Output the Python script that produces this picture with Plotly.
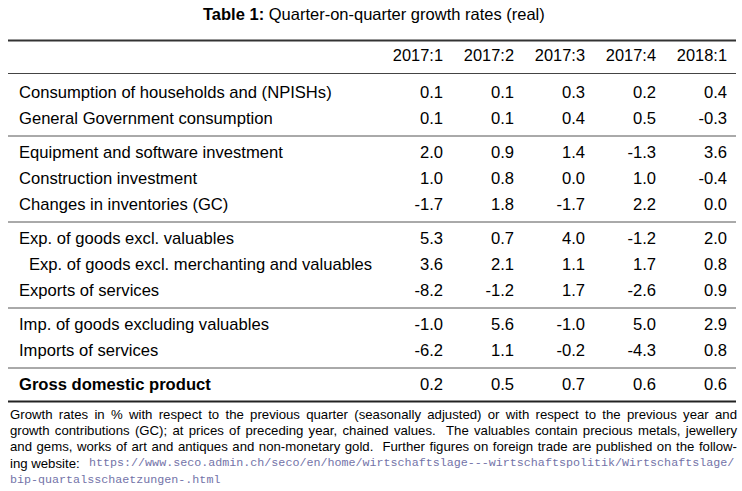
import plotly.graph_objects as go

# ---------------- data ----------------
title_bold = "Table 1:"
title_rest = "Quarter-on-quarter growth rates (real)"

quarters = ["2017:1", "2017:2", "2017:3", "2017:4", "2018:1"]

row_labels = [
    "Consumption of households and (NPISHs)",
    "General Government consumption",
    "Equipment and software investment",
    "Construction investment",
    "Changes in inventories (GC)",
    "Exp. of goods excl. valuables",
    "Exp. of goods excl. merchanting and valuables",
    "Exports of services",
    "Imp. of goods excluding valuables",
    "Imports of services",
    "Gross domestic product",
]
row_groups = [0, 0, 1, 1, 1, 2, 2, 2, 3, 3, 4]
row_indent = [0, 0, 0, 0, 0, 0, 1, 0, 0, 0, 0]
row_bold = [0, 0, 0, 0, 0, 0, 0, 0, 0, 0, 1]

q2017_1 = [0.1, 0.1, 2.0, 1.0, -1.7, 5.3, 3.6, -8.2, -1.0, -6.2, 0.2]
q2017_2 = [0.1, 0.1, 0.9, 0.8, 1.8, 0.7, 2.1, -1.2, 5.6, 1.1, 0.5]
q2017_3 = [0.3, 0.4, 1.4, 0.0, -1.7, 4.0, 1.1, 1.7, -1.0, -0.2, 0.7]
q2017_4 = [0.2, 0.5, -1.3, 1.0, 2.2, -1.2, 1.7, -2.6, 5.0, -4.3, 0.6]
q2018_1 = [0.4, -0.3, 3.6, -0.4, 0.0, 2.0, 0.8, 0.9, 2.9, 0.8, 0.6]
columns = [q2017_1, q2017_2, q2017_3, q2017_4, q2018_1]

note_lines = [
    "Growth rates in % with respect to the previous quarter (seasonally adjusted) or with respect to the previous year and",
    "growth contributions (GC); at prices of preceding year, chained values.  The valuables contain precious metals, jewellery",
    "and gems, works of art and antiques and non-monetary gold.  Further figures on foreign trade are published on the follow-",
]
note_prefix = "ing website:"
url_part1 = "https://www.seco.admin.ch/seco/en/home/wirtschaftslage---wirtschaftspolitik/Wirtschaftslage/"
url_part2 = "bip-quartalsschaetzungen-.html"

# ---------------- layout constants ----------------
W, H = 742, 491
LEFT, RIGHT = 8, 736
LABEL_X = 19
INDENT = 10
COL_RIGHT0 = 443
COL_STEP = 71
HEADER_Y = 57
ROW_Y0 = 93.5
ROW_STEP = 26
GROUP_GAP = 8
FONT = "Liberation Sans, Arial, sans-serif"
MONO = "Liberation Mono, Courier New, monospace"
FS = 16.6
NFS = 13.2
URL_FS = 11.7
URL_X = 87
URL_COLOR = "#7373a8"

def row_y(i):
    return ROW_Y0 + ROW_STEP * i + GROUP_GAP * row_groups[i]

fig = go.Figure()

# header
fig.add_trace(go.Scatter(
    x=[COL_RIGHT0 + COL_STEP * j for j in range(len(quarters))],
    y=[HEADER_Y] * len(quarters),
    text=quarters, mode="text", textposition="middle left",
    textfont=dict(family=FONT, size=16.4, color="#000"),
    hoverinfo="skip", showlegend=False,
))

# row labels
fig.add_trace(go.Scatter(
    x=[LABEL_X + INDENT * row_indent[i] for i in range(len(row_labels))],
    y=[row_y(i) for i in range(len(row_labels))],
    text=[("<b>%s</b>" % t) if row_bold[i] else t for i, t in enumerate(row_labels)],
    mode="text", textposition="middle right",
    textfont=dict(family=FONT, size=FS, color="#000"),
    hoverinfo="skip", showlegend=False,
))

# values
for j, col in enumerate(columns):
    fig.add_trace(go.Scatter(
        x=[COL_RIGHT0 + COL_STEP * j] * len(col),
        y=[row_y(i) for i in range(len(col))],
        text=["%.1f" % v for v in col],
        mode="text", textposition="middle left",
        textfont=dict(family=FONT, size=FS, color="#000"),
        hoverinfo="skip", showlegend=False,
    ))

# rules
shapes = []
def hline(y, w, color):
    shapes.append(dict(type="line", xref="x", yref="y", x0=LEFT, x1=RIGHT,
                       y0=y, y1=y, line=dict(color=color, width=w)))

hline(40.5, 2, "#333")
hline(73.5, 1, "#444")
for g in range(1, 5):
    first = row_groups.index(g)
    hline((row_y(first - 1) + row_y(first)) / 2 - 0.5, 1, "#555")
hline(401.5, 2, "#222")

annotations = [
    dict(x=374, y=14, xref="x", yref="y", showarrow=False,
         text="<b>%s</b> %s" % (title_bold, title_rest),
         font=dict(family=FONT, size=16.5, color="#000"), xanchor="center", yanchor="middle"),
]
NOTE_Y0, NOTE_STEP = 414, 16.4
for k, line in enumerate(note_lines):
    annotations.append(dict(x=LEFT, y=NOTE_Y0 + NOTE_STEP * k, xref="x", yref="y", showarrow=False,
                            text=line, font=dict(family=FONT, size=NFS, color="#000"),
                            xanchor="left", yanchor="middle", align="left"))
annotations.append(dict(
    x=LEFT, y=NOTE_Y0 + NOTE_STEP * 3, xref="x", yref="y", showarrow=False,
    text=note_prefix, font=dict(family=FONT, size=NFS, color="#000"),
    xanchor="left", yanchor="middle", align="left"))
annotations.append(dict(
    x=URL_X, y=NOTE_Y0 + NOTE_STEP * 3, xref="x", yref="y", showarrow=False,
    text=url_part1, font=dict(family=MONO, size=URL_FS, color=URL_COLOR),
    xanchor="left", yanchor="middle", align="left"))
annotations.append(dict(
    x=LEFT, y=NOTE_Y0 + NOTE_STEP * 4, xref="x", yref="y", showarrow=False,
    text=url_part2, font=dict(family=MONO, size=URL_FS, color=URL_COLOR),
    xanchor="left", yanchor="middle", align="left"))

fig.update_layout(
    width=W, height=H, margin=dict(l=0, r=0, t=0, b=0),
    paper_bgcolor="white", plot_bgcolor="white",
    xaxis=dict(range=[0, W], visible=False, fixedrange=True),
    yaxis=dict(range=[H, 0], visible=False, fixedrange=True),
    shapes=shapes, annotations=annotations,
)

# remove page margin and justify the three full footnote lines (as in the typeset original)
post = """
document.body.style.margin = '0';
var target = %d;
var anns = document.querySelectorAll('.annotation-text');
for (var i = 1; i <= 3 && i < anns.length; i++) {
  var t = anns[i];
  var len = t.getComputedTextLength();
  var txt = t.textContent;
  var n = (txt.match(/ /g) || []).length;
  if (n > 0 && len < target) {
    t.style.wordSpacing = ((target - len) / n) + 'px';
  }
}
""" % (RIGHT - LEFT - 1)

fig.write_html("out.html", post_script=post, config={"displayModeBar": False})
